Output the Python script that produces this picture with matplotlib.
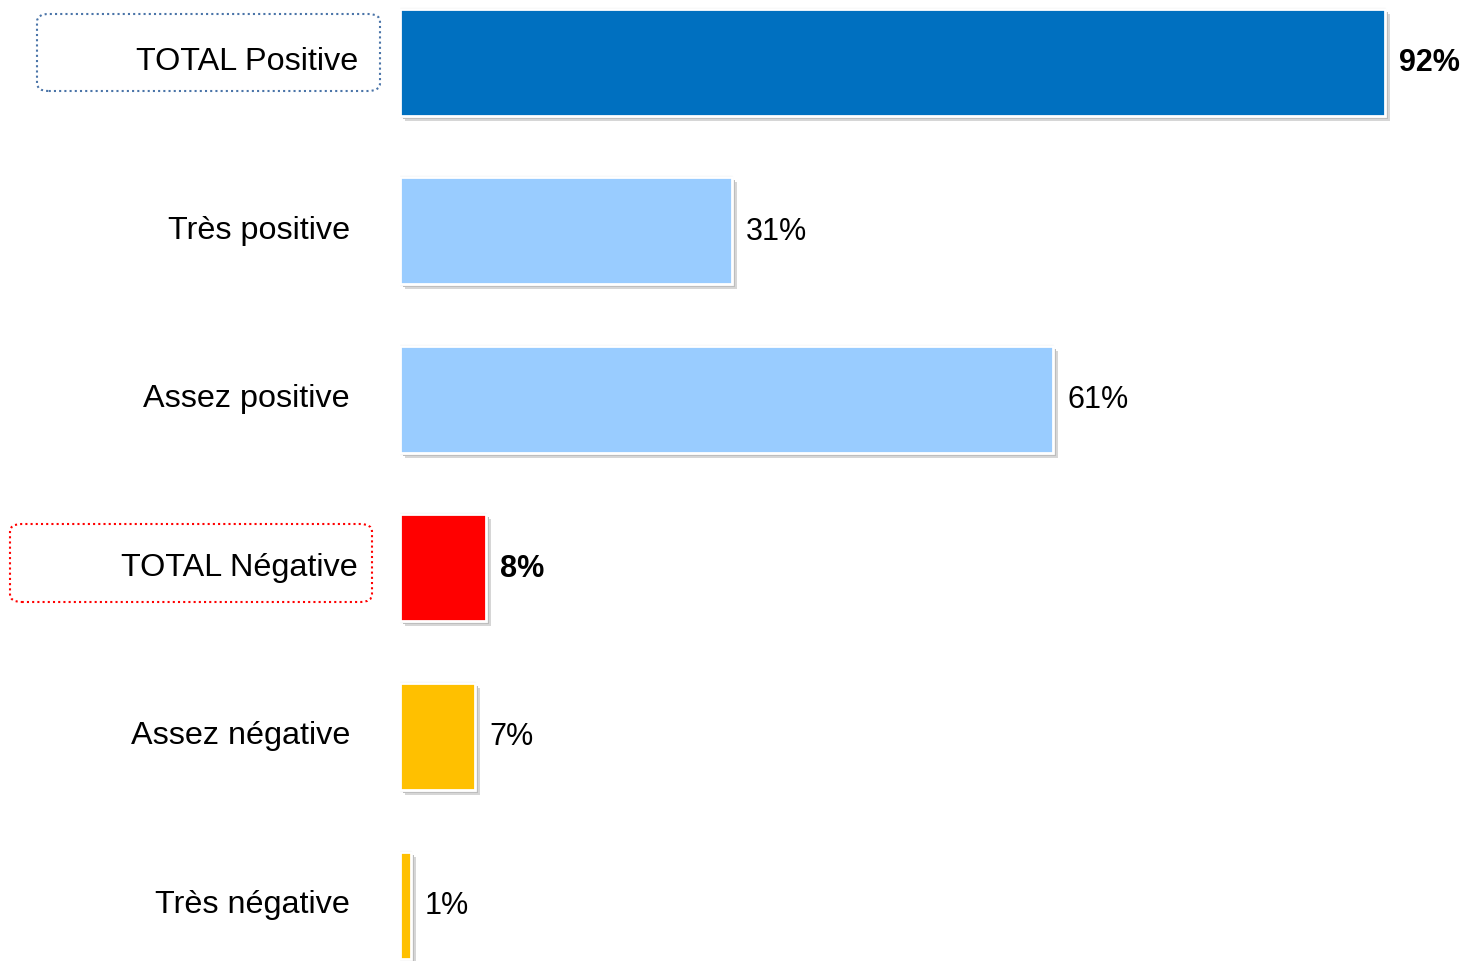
import matplotlib.pyplot as plt
from matplotlib.patches import FancyBboxPatch

categories = ["TOTAL Positive", "Très positive", "Assez positive",
              "TOTAL Négative", "Assez négative", "Très négative"]
values = [92, 31, 61, 8, 7, 1]
colors = ["#0070C0", "#99CCFF", "#99CCFF", "#FF0000", "#FFC000", "#FFC000"]
is_total = [True, False, False, True, False, False]

W, H = 1465, 962
fig = plt.figure(figsize=(W / 100, H / 100), dpi=100)
ax = fig.add_axes([400 / W, 0, 1 - 400 / W, 1])

px_per_pct = 985 / 92
row_px = 168.6
ax.set_xlim(0, (W - 400) / px_per_pct)
ax.set_ylim((H - 63) / row_px, -63 / row_px)
ax.axis("off")

ys = list(range(len(values)))
bar_h = 107 / row_px
dx = 5 / px_per_pct
dy = 5 / row_px

# soft shadow first, then the bar with a thin white edge
ax.barh([y + dy for y in ys], values, left=dx, height=bar_h,
        color="#d6d6d6", edgecolor="none", zorder=1)
ax.barh([y + dy * 0.6 for y in ys], values, left=dx * 0.6, height=bar_h,
        color="#bdbdbd", edgecolor="none", zorder=1.2)
ax.barh(ys, values, height=bar_h + 2 / row_px, color="white",
        edgecolor="#d0d0d0", linewidth=0.8, zorder=1.5)
ax.barh(ys, values, height=bar_h, color=colors,
        edgecolor="white", linewidth=2, zorder=2)

font = "Liberation Sans"
for y, v, tot in zip(ys, values, is_total):
    ax.text(v + 14 / px_per_pct, y, f"{v}%", va="center", ha="left",
            fontsize=22, family=font, fontweight="bold" if tot else "normal",
            color="black")

for y, cat, tot in zip(ys, categories, is_total):
    xpx = 358 if tot else 350
    yfig = 1 - (62 + row_px * y) / H
    fig.text(xpx / W, yfig, cat, ha="right", va="center",
             fontsize=23.3, family=font, color="black")

# dotted rounded boxes round the totals
for (x0, y0, x1, y1), ec in [((37, 15, 380, 92), "#4a74a8"),
                             ((10, 525, 372, 603), "#ff0000")]:
    box = FancyBboxPatch((x0 / W, 1 - y1 / H), (x1 - x0) / W, (y1 - y0) / H,
                         boxstyle="round,pad=0,rounding_size=0.008",
                         transform=fig.transFigure, facecolor="none",
                         edgecolor=ec, linewidth=1.5, linestyle=(0, (1, 1.5)))
    fig.add_artist(box)

fig.savefig("out.png", dpi=100)
